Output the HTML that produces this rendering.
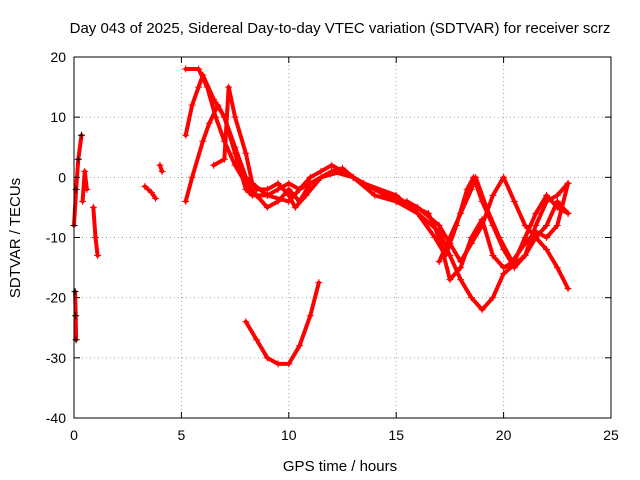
<!DOCTYPE html>
<html><head><meta charset="utf-8"><style>
body{margin:0;background:#fff}
svg{display:block;font-family:"Liberation Sans",sans-serif}
</style></head><body>
<svg id="chart" width="640" height="480">
<text x="340" y="33" text-anchor="middle" font-size="15">Day 043 of 2025, Sidereal Day-to-day VTEC variation (SDTVAR) for receiver scrz</text>
<text x="340" y="471" text-anchor="middle" font-size="15">GPS time / hours</text>
<text transform="translate(20,238) rotate(-90)" text-anchor="middle" font-size="15">SDTVAR / TECUs</text>
<g id="grid"></g><g id="series"></g><g id="axes"></g>
</svg>
<script>
const xTicks=[0,5,10,15,20,25];
const yTicks=[20,10,0,-10,-20,-30,-40];
const trackA=[[0,-8],[0.1,-2],[0.2,3],[0.35,7]];
const trackB=[[0.05,-19],[0.08,-23],[0.1,-27]];
const trackC=[[0.4,-4],[0.5,1],[0.6,-2]];
const trackD=[[0.9,-5],[1.0,-10],[1.1,-13]];
const trackE=[[3.3,-1.5],[3.6,-2.5],[3.8,-3.5]];
const trackF=[[4.0,2],[4.1,1]];
const trackArc=[[8,-24],[8.5,-27],[9,-30],[9.5,-31],[10,-31],[10.5,-28],[11,-23],[11.4,-17.5]];
const track1=[[5.2,18],[5.8,18],[6.2,15],[6.6,10],[7,6],[7.5,2],[8,-1],[8.5,-3],[9,-5],[9.5,-4],[10,-2],[10.5,-4],[11,-1],[11.5,0],[12,1],[12.5,1.5],[13,0],[14,-2],[15,-4],[16,-6],[17,-9],[17.5,-13],[18,-17],[18.5,-20],[19,-22],[19.5,-20],[20,-16],[21,-13],[21.5,-10],[22,-12],[22.5,-15],[23,-18.5]];
const track2=[[5.2,-4],[5.5,0],[6,6],[6.3,9],[6.7,12],[7,10],[7.5,5],[8,0],[8.5,-2],[9,-2],[9.5,-1],[10,-3],[10.3,-5],[10.8,-3],[11.5,0],[12.5,1],[13.5,-1],[15,-3],[16,-6],[16.8,-10],[17.3,-13],[17.8,-8],[18.3,-2],[18.6,0],[19,-4],[19.5,-8],[20,-12],[20.5,-15],[21,-13],[21.5,-8],[22,-4],[22.5,-3],[23,-1]];
const track3=[[5.2,7],[5.5,12],[5.8,15],[6,17],[6.5,13],[7,10],[7.5,4],[8,-2],[8.3,-3],[9,-3],[9.5,-2],[10,-1],[10.5,-2],[11,0],[11.5,1],[12,2],[13,0],[14,-3],[15,-4],[15.5,-4],[16,-5],[17,-8],[17.5,-11],[18,-14],[18.5,-11],[19,-8],[19.5,-3],[20,0],[20.5,-4],[21,-8],[21.5,-10],[22,-8],[22.5,-4],[23,-6]];
const track4=[[6.5,2],[7,3],[7.2,15],[7.5,10],[8,4],[8.3,-1],[9,-3],[10,-4],[10.5,-2],[11,-1],[12,1],[13,0],[14,-2],[15,-3.5],[16.5,-6],[17,-10],[17.5,-17],[18,-15],[18.5,-10],[19,-7],[19.5,-13],[20,-15],[20.5,-14],[21,-10],[21.5,-6],[22,-3],[22.5,-5],[23,-6]];
const track5=[[17,-14],[17.5,-10],[18,-6],[18.5,-2],[18.7,0],[19.2,-5],[19.8,-10],[20.4,-14],[21,-11],[21.5,-9],[22,-10],[22.5,-8],[23,-1]];
const tracks=[trackA,trackB,trackC,trackD,trackE,trackF,trackArc,track1,track2,track3,track4,track5];
const X0=74,X1=611,Y0=418,Y1=57;
const xs=v=>X0+(v-0)/25*(X1-X0);
const ys=v=>Y0-(v+40)/60*(Y0-Y1);
const NS="http://www.w3.org/2000/svg";
function mk(tag,attrs,parent){const e=document.createElementNS(NS,tag);for(const k in attrs)e.setAttribute(k,attrs[k]);parent.appendChild(e);return e;}
const grid=document.getElementById('grid'),axes=document.getElementById('axes'),ser=document.getElementById('series');
xTicks.forEach(t=>{
  const x=xs(t);
  if(t>0&&t<25){const g=mk('line',{x1:x,x2:x,y1:Y1,y2:Y0,stroke:'#a0a0a0','stroke-dasharray':'1,3'},grid);
  
  }
  mk('line',{x1:x,x2:x,y1:Y0,y2:Y0-6,stroke:'#000'},axes);
  mk('line',{x1:x,x2:x,y1:Y1,y2:Y1+6,stroke:'#000'},axes);
  const l=mk('text',{x:x,y:Y0+22,'text-anchor':'middle','font-size':'14'},axes);
  l.textContent=t;
  
  
});
yTicks.forEach(t=>{
  const y=ys(t);
  if(t>-40&&t<20){const g=mk('line',{x1:X0,x2:X1,y1:y,y2:y,stroke:'#a0a0a0','stroke-dasharray':'1,3'},grid);
  
  }
  mk('line',{x1:X0,x2:X0+6,y1:y,y2:y,stroke:'#000'},axes);
  mk('line',{x1:X1,x2:X1-6,y1:y,y2:y,stroke:'#000'},axes);
  const l=mk('text',{x:X0-8,y:y+5,'text-anchor':'end','font-size':'14'},axes);
  l.textContent=t;
  
  
});
const fr=mk('rect',{x:X0,y:Y1,width:X1-X0,height:Y0-Y1,fill:'none',stroke:'#000'},axes);


tracks.forEach((tr,i)=>{
  const pl=mk('polyline',{points:tr.map(p=>xs(p[0])+','+ys(p[1])).join(' '),fill:'none',stroke:'#f00','stroke-width':'4','stroke-linejoin':'round','stroke-linecap':'round'},ser);
  
  
  tr.forEach(p=>{
    const x=xs(p[0]),y=ys(p[1]);
    const m=mk('path',{d:`M${x-3.5},${y}h7M${x},${y-3.5}v7`,stroke:i<2?'#000':'#f00','stroke-width':'1'},ser);
    
    
  });
});
</script>
</body></html>
